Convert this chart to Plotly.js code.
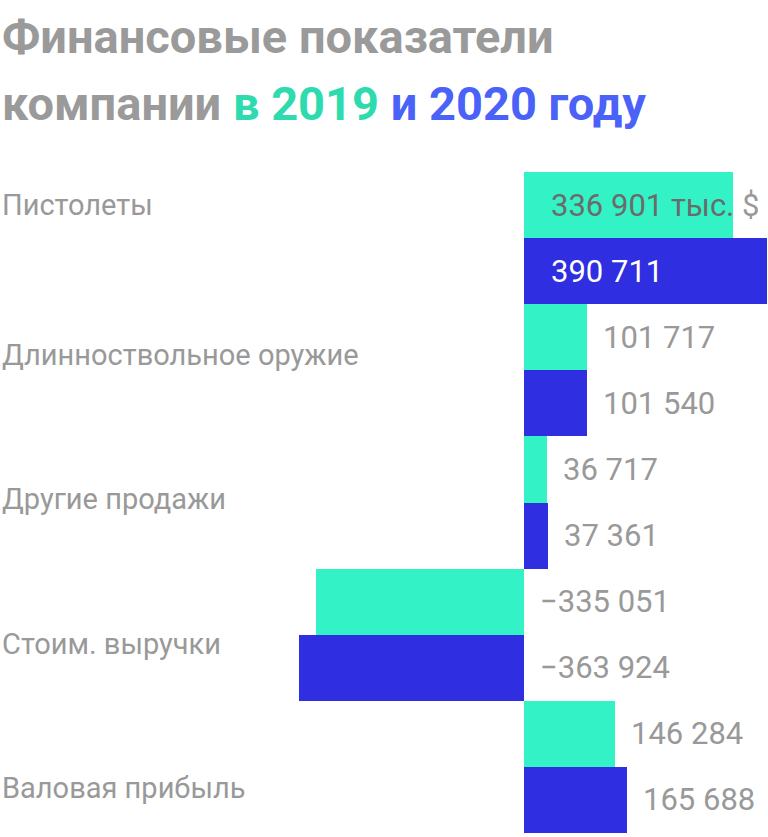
<!DOCTYPE html>
<html>
<head>
<meta charset="utf-8">
<script src="https://cdn.plot.ly/plotly-3.0.1.min.js"></script>
<style>
  html, body { margin: 0; padding: 0; background: white; }
  #chart { width: 768px; height: 837px; }
</style>
</head>
<body>
<div id="chart"></div>
<script>
const categories = ['Пистолеты', 'Длинноствольное оружие', 'Другие продажи', 'Стоим. выручки', 'Валовая прибыль'];
const values2019 = [336901, 101717, 36717, -335051, 146284];
const values2020 = [390711, 101540, 37361, -363924, 165688];

const GREEN = '#33f3c6';
const BLUE = '#2f2ee0';
const GRAY = '#999999';

// pixel helpers: plot area runs from y=172 to y=833
const plotTop = 172;
const plotBottom = 833;
function paperY(px) {
    return (plotBottom - px) / (plotBottom - plotTop);
}

function fmt(v) {
    const s = Math.abs(v).toString().replace(/\B(?=(\d{3})+(?!\d))/g, ' ');
    return (v < 0 ? '−' : '') + s;
}

const traces = [
    { y: categories, x: values2019, name: '2019', type: 'bar', orientation: 'h',
      marker: { color: GREEN, line: { width: 0 } }, hoverinfo: 'none' },
    { y: categories, x: values2020, name: '2020', type: 'bar', orientation: 'h',
      marker: { color: BLUE, line: { width: 0 } }, hoverinfo: 'none' }
];

const annotations = [];

// title, two lines
annotations.push({
    xref: 'paper', yref: 'paper', x: 0, y: paperY(36), xanchor: 'left', yanchor: 'middle',
    showarrow: false, text: 'Финансовые показатели',
    font: { family: 'Roboto', size: 47, weight: 700, color: '#9a9a9a' }
});
annotations.push({
    xref: 'paper', yref: 'paper', x: 0, y: paperY(103), xanchor: 'left', yanchor: 'middle',
    showarrow: false,
    text: 'компании <span style="color:#2edbae">в 2019</span> <span style="color:#4a62f8">и 2020 году</span>',
    font: { family: 'Roboto', size: 47, weight: 700, color: '#9a9a9a' }
});

// category labels on the left
const labelPx = [205, 355, 499, 644, 788];
categories.forEach((c, i) => {
    annotations.push({
        xref: 'paper', yref: 'paper', x: 0, y: paperY(labelPx[i]), xanchor: 'left', yanchor: 'middle',
        showarrow: false, text: c,
        font: { family: 'Roboto', size: 29, color: GRAY }
    });
});

// value labels
function addValues(vals, offset, insideColor) {
    vals.forEach((v, i) => {
        const first = i === 0;
        let text = fmt(v);
        let color = GRAY;
        if (first) {
            if (insideColor === 'dark') {
                text = '<span style="color:#6b6b6b">' + fmt(v) + ' тыс.</span> $';
            } else {
                color = 'white';
            }
        }
        annotations.push({
            xref: 'x', yref: 'y', x: first || v < 0 ? 0 : v, y: categories[i],
            yshift: offset, xshift: first ? 25 : 14,
            xanchor: 'left', yanchor: 'middle', showarrow: false, text: text,
            font: { family: 'Roboto', size: 31, color: color }
        });
    });
}
addValues(values2019, 33, 'dark');
addValues(values2020, -33, 'light');

const layout = {
    width: 768,
    height: 837,
    paper_bgcolor: 'white',
    plot_bgcolor: 'white',
    margin: { l: 0, r: 0, t: plotTop, b: 837 - plotBottom, pad: 0 },
    barmode: 'group',
    bargap: 0,
    bargroupgap: 0,
    showlegend: false,
    xaxis: {
        range: [-845161, 390711 + 2000],
        showgrid: false, zeroline: false, showticklabels: false, showline: false, ticks: ''
    },
    yaxis: {
        type: 'category',
        range: [4.5, -0.5],
        showgrid: false, zeroline: false, showticklabels: false, showline: false, ticks: ''
    },
    annotations: annotations
};

Plotly.newPlot('chart', traces, layout, { displayModeBar: false, staticPlot: true });
</script>
</body>
</html>
